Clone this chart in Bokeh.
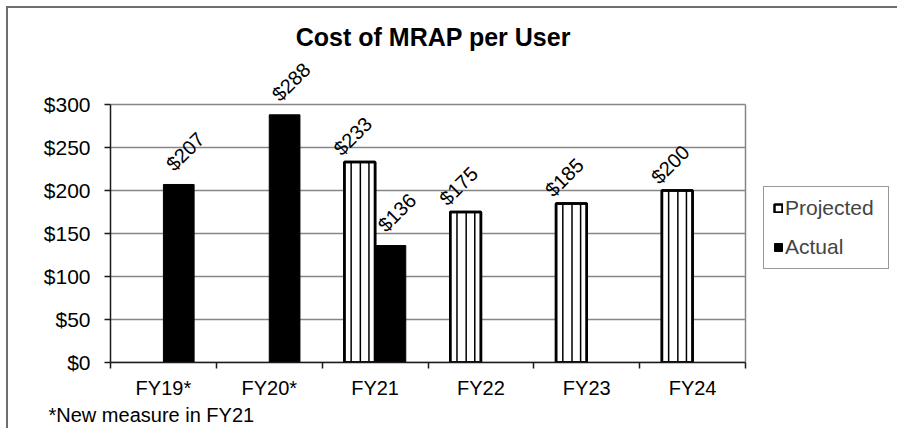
import math
from bokeh.plotting import figure
from bokeh.models import (ColumnDataSource, Range1d, FixedTicker, NumeralTickFormatter,
                          LabelSet, Label, Legend, LegendItem, Title)
from bokeh.core.properties import value
from bokeh.embed import file_html
from bokeh.resources import INLINE

# ---- data ----
categories = ["FY19*", "FY20*", "FY21", "FY22", "FY23", "FY24"]
projected = [None, None, 233, 175, 185, 200]
actual = [207, 288, 136, None, None, None]
y_ticks = [0, 50, 100, 150, 200, 250, 300]
title_text = "Cost of MRAP per User"
footnote_text = "*New measure in FY21"

FONT = "Liberation Sans"
BAR_W = 0.29
GRID = "#868686"
DARK = "#1a1a1a"

# ---- layout (pixels) ----
W, H = 891, 422
LEFT, BOTTOM = 102, 68
PLOT_W, PLOT_H = 635, 258          # visible chart area (6 categories, $0-$300)
frame_w, frame_h = W - LEFT, H - BOTTOM
ncat = len(categories)
ymax = max(y_ticks)
px_per_y = PLOT_H / ymax
x_end = frame_w / (PLOT_W / ncat)
y_end = frame_h / px_per_y

p = figure(width=W, height=H, output_backend="svg", toolbar_location=None, title=None,
           x_range=Range1d(0, x_end), y_range=Range1d(0, y_end),
           min_border_left=LEFT, min_border_top=0, min_border_right=0,
           min_border_bottom=BOTTOM, outline_line_color=None)
p.styles = {"margin-left": "6px", "margin-top": "6px",
            "border-top": "2px solid #6e6e6e", "border-left": "2px solid #6e6e6e"}
p.xgrid.visible = False
p.ygrid.visible = False

# grid lines and right edge of chart area
p.segment(x0=[0] * len(y_ticks), x1=[ncat] * len(y_ticks), y0=y_ticks, y1=y_ticks,
          line_color=GRID, line_width=1.5)
p.segment(x0=[ncat], x1=[ncat], y0=[0], y1=[ymax], line_color=GRID, line_width=1.5)

pi_idx = [i for i, v in enumerate(projected) if v is not None]
ai_idx = [i for i, v in enumerate(actual) if v is not None]
src_p = ColumnDataSource(dict(x=[i + 0.5 - BAR_W / 2 for i in pi_idx],
                              top=[projected[i] for i in pi_idx],
                              label=["$%d" % projected[i] for i in pi_idx]))
src_a = ColumnDataSource(dict(x=[i + 0.5 + BAR_W / 2 for i in ai_idx],
                              top=[actual[i] for i in ai_idx],
                              label=["$%d" % actual[i] for i in ai_idx]))

rp = p.vbar(x="x", top="top", bottom=0, width=BAR_W, source=src_p,
            fill_color="white", line_color="black", line_width=2.5)
# vertical stripe pattern inside projected bars
hx, hy = [], []
for i in pi_idx:
    c = i + 0.5 - BAR_W / 2
    for f in (-0.28, 0.02, 0.3):
        hx.append(c + f * BAR_W)
        hy.append(projected[i])
p.segment(x0=hx, x1=hx, y0=[0] * len(hx), y1=hy, line_color="black", line_width=1.5)
# redraw outline on top of stripes
p.vbar(x="x", top="top", bottom=0, width=BAR_W, source=src_p,
       fill_color=None, line_color="black", line_width=2.5)

ra = p.vbar(x="x", top="top", bottom=0, width=BAR_W, source=src_a,
            fill_color="black", line_color="black", line_width=1)

# y axis
p.yaxis.bounds = (0, ymax)
p.yaxis.ticker = FixedTicker(ticks=y_ticks)
p.yaxis.formatter = NumeralTickFormatter(format="$0")
p.yaxis.major_label_text_font = FONT
p.yaxis.major_label_text_font_size = "21px"
p.yaxis.major_label_text_color = "black"
p.yaxis.axis_line_color = DARK
p.yaxis.axis_line_width = 1.5
p.yaxis.major_tick_line_color = DARK
p.yaxis.major_tick_line_width = 1.5
p.yaxis.major_tick_out = 6
p.yaxis.major_tick_in = 0
p.yaxis.minor_tick_line_color = None
p.yaxis.major_label_standoff = 14

# x axis
centers = [i + 0.5 for i in range(ncat)]
p.xaxis.bounds = (0, ncat)
p.xaxis.ticker = FixedTicker(ticks=centers, minor_ticks=list(range(ncat + 1)))
p.xaxis.major_label_overrides = {c: cat for c, cat in zip(centers, categories)}
p.xaxis.major_label_text_font = FONT
p.xaxis.major_label_text_font_size = "20px"
p.xaxis.major_label_text_color = "black"
p.xaxis.axis_line_color = DARK
p.xaxis.axis_line_width = 1.5
p.xaxis.major_tick_out = 0
p.xaxis.major_tick_in = 0
p.xaxis.major_tick_line_color = None
p.xaxis.minor_tick_out = 6
p.xaxis.minor_tick_in = 0
p.xaxis.minor_tick_line_color = DARK
p.xaxis.minor_tick_line_width = 1.5
p.xaxis.major_label_standoff = 8

# value labels
lab_kw = dict(x="x", y="top", text="label", angle=math.pi / 4, text_align="center",
              text_baseline="middle", text_font=value(FONT), text_font_size="20px",
              text_color="black")
p.add_layout(LabelSet(source=src_p, x_offset=-7, y_offset=26, **lab_kw))
p.add_layout(LabelSet(source=src_a, x_offset=6.5, y_offset=33, **lab_kw))

# chart title (inside the frame area, above the $300 line)
p.add_layout(Label(x=ncat / 2 + 0.05, y=326 / px_per_y,
                   text=title_text, text_align="center",
                   text_baseline="alphabetic", text_font=FONT, text_font_size="25px",
                   text_font_style="bold", text_color="black"))

# footnote below the axis
p.add_layout(Title(text=footnote_text, align="left", offset=-62, standoff=0,
                   text_font=FONT, text_font_size="20px", text_font_style="normal",
                   text_color="black"), "below")

legend = Legend(items=[LegendItem(label="Projected", renderers=[rp]),
                       LegendItem(label="Actual", renderers=[ra])],
                location=(653, 93), glyph_width=10, glyph_height=10,
                label_text_font=FONT, label_text_font_size="21px", label_width=94,
                label_standoff=2, padding=9, spacing=15, margin=0,
                border_line_color="#333333", border_line_width=1,
                background_fill_color="white")
p.add_layout(legend)

open("out.html", "w").write(file_html(p, INLINE))
